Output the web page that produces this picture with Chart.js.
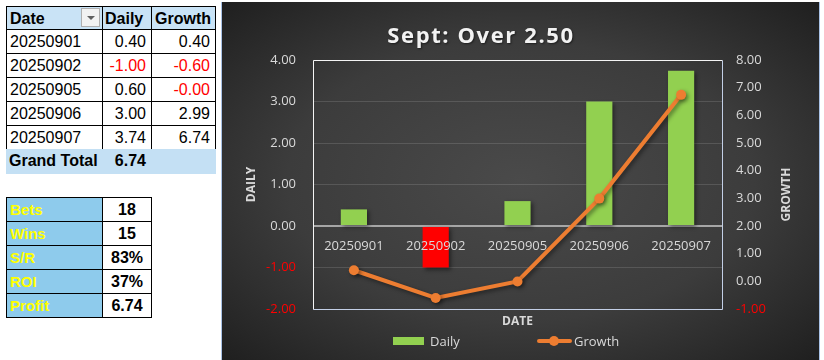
<!DOCTYPE html>
<html><head><meta charset="utf-8">
<script src="https://cdn.jsdelivr.net/npm/chart.js@4.4.1/dist/chart.umd.min.js"></script>
<style>
html,body{margin:0;padding:0;background:#fff;width:824px;height:360px;overflow:hidden;font-family:"Liberation Sans",Arial,sans-serif;}
.cell{position:absolute;box-sizing:border-box;border:1px solid #000;white-space:nowrap;overflow:hidden;}
#panel{position:absolute;left:221px;top:2px;width:599px;height:358px;
 background:radial-gradient(ellipse farthest-corner at 50% 50%, #4a4a4a 0%, #3c3c3c 55%, #1f1f1f 100%);
 box-shadow: inset 1px 0 0 #a9c2e6, inset -1px 0 0 #a9c2e6;}
#chart{position:absolute;left:0;top:0;}
#title{position:absolute;left:281px;top:19px;width:400px;text-align:center;font:bold 22px "Open Sans",sans-serif;letter-spacing:1.6px;color:#f2f2f2;line-height:30px;text-shadow:1px 1px 2px rgba(0,0,0,0.5);}
.lg{position:absolute;font:13px "Open Sans",sans-serif;color:#d9d9d9;line-height:18px;}
</style>
</head><body>
<div id="tables"></div>
<div id="panel"><canvas id="chart" width="599" height="358"></canvas></div>
<div id="title">Sept: Over 2.50</div>
<div id="legend"></div>
<script>
const categories = ['20250901','20250902','20250905','20250906','20250907'];
const dailyValues = [0.40, -1.00, 0.60, 3.00, 3.74];
const growthValues = [0.40, -0.60, -0.004, 2.99, 6.74];
const grandTotal = 6.74;
const statLabels = ['Bets','Wins','S/R','ROI','Profit'];
const statValues = ['18','15','83%','37%','6.74'];
const seriesNames = ['Daily','Growth'];
const dailyAxis = {min:-2, max:4, step:1, title:'DAILY'};
const growthAxis = {min:-1, max:8, step:1, title:'GROWTH'};
const xAxisTitle = 'DATE';
const chartTitle = 'Sept: Over 2.50';

const GREEN = '#92D050', RED = '#FF0000', ORANGE = '#ED7D31', TXT = '#d9d9d9';

// ---------- tables ----------
const T = document.getElementById('tables');
function cell(x,y,w,h,text,css){
  const d=document.createElement('div');
  d.className='cell';
  d.style.cssText=`left:${x}px;top:${y}px;width:${w+1}px;height:${h+1}px;line-height:${h}px;`+(css||'');
  d.textContent=text;
  T.appendChild(d);
  return d;
}
const fmt = v => v.toFixed(2);
const hdrBg='#c9e3f6';
// header
cell(6,6,96,23,'Date','background:'+hdrBg+';font-weight:bold;font-size:16px;padding-left:3px;');
cell(102,6,49,23,'Daily','background:'+hdrBg+';font-weight:bold;font-size:16px;padding-left:2px;');
cell(151,6,64,23,'Growth','background:'+hdrBg+';font-weight:bold;font-size:16px;padding-left:3px;');
const btn=document.createElement('div');
btn.style.cssText='position:absolute;left:81px;top:8px;width:19px;height:19px;box-sizing:border-box;background:#f2f2f2;border:1px solid #b0b0b0;';
btn.innerHTML='<div style="position:absolute;left:5px;top:7px;width:0;height:0;border-left:4px solid transparent;border-right:4px solid transparent;border-top:4px solid #606060;"></div>';
T.appendChild(btn);
const rowY=[29,53,77,101,125];
categories.forEach((c,i)=>{
  const y=rowY[i];
  cell(6,y,96,24,c,'font-size:16px;padding-left:3px;');
  cell(102,y,49,24,fmt(dailyValues[i]),'font-size:16px;text-align:right;padding-right:5px;color:'+(dailyValues[i]<0?RED:'#000')+';');
  cell(151,y,64,24,fmt(growthValues[i]),'font-size:16px;text-align:right;padding-right:5px;color:'+(growthValues[i]<0?RED:'#000')+';');
});
cell(6,149,209,24,'','background:#c4e0f4;border:none;');
cell(6,149,96,24,'Grand Total','background:transparent;border:none;font-weight:bold;font-size:16px;padding-left:3px;');
cell(102,149,49,24,fmt(grandTotal),'background:transparent;border:none;font-weight:bold;font-size:16px;text-align:right;padding-right:6px;');
// stats
const sY=[197,221,245,269,293];
statLabels.forEach((l,i)=>{
  cell(6,sY[i],96,24,l,'background:#8ecbec;color:#ffff00;font-weight:bold;font-size:15px;padding-left:3px;');
  cell(102,sY[i],49,24,statValues[i],'background:#fff;color:#000;font-weight:bold;font-size:16px;text-align:center;');
});

// ---------- legend (HTML) ----------
const L=document.getElementById('legend');
L.innerHTML=
 `<div style="position:absolute;left:393px;top:337px;width:31px;height:8px;background:${GREEN};"></div>`+
 `<div class="lg" style="left:430px;top:332px;">${seriesNames[0]}</div>`+
 `<div style="position:absolute;left:537px;top:339px;width:35px;height:4px;background:${ORANGE};border-radius:2px;"></div>`+
 `<div style="position:absolute;left:549px;top:336px;width:10px;height:10px;border-radius:50%;background:${ORANGE};"></div>`+
 `<div class="lg" style="left:574px;top:332px;">${seriesNames[1]}</div>`;
document.getElementById('title').textContent=chartTitle;

// ---------- chart ----------
const plotFrame={
  id:'plotFrame',
  beforeDatasetsDraw(chart){
    const {ctx,chartArea:a}=chart;
    ctx.save();
    ctx.lineWidth=1;
    ctx.strokeStyle='#f4f4f4';
    ctx.beginPath();ctx.moveTo(a.left+0.5,a.bottom+0.5);ctx.lineTo(a.left+0.5,a.top+0.5);ctx.lineTo(a.right+0.5,a.top+0.5);ctx.stroke();
    ctx.strokeStyle='#c3cfe6';
    ctx.beginPath();ctx.moveTo(a.right+0.5,a.top+0.5);ctx.lineTo(a.right+0.5,a.bottom+0.5);ctx.lineTo(a.left+0.5,a.bottom+0.5);ctx.stroke();
    ctx.restore();
  }
};
const shadows={
  id:'shadows',
  beforeDatasetDraw(chart){const c=chart.ctx;c.save();c.shadowColor='rgba(0,0,0,0.45)';c.shadowBlur=4;c.shadowOffsetX=2;c.shadowOffsetY=2;},
  afterDatasetDraw(chart){chart.ctx.restore();}
};
const growthTitle={
  id:'growthTitle',
  afterDraw(chart){
    const s=chart.scales.y1,c=chart.ctx,a=chart.chartArea;
    c.save();
    c.translate(s.right-33,(a.top+a.bottom)/2+10);
    c.rotate(-Math.PI/2);
    c.font='bold 12px "Open Sans"';
    c.fillStyle=TXT;c.textAlign='center';c.textBaseline='middle';
    c.fillText(growthAxis.title,0,0);
    c.restore();
  }
};
const tickFont={family:'Open Sans',size:13};
const titleFont={family:'Open Sans',size:12,weight:'bold'};
new Chart(document.getElementById('chart'),{
  data:{
    labels:categories,
    datasets:[
      {type:'line',label:seriesNames[1],data:growthValues,yAxisID:'y1',borderColor:ORANGE,backgroundColor:ORANGE,
       borderWidth:4,pointRadius:5,pointBackgroundColor:ORANGE,pointBorderColor:ORANGE,pointBorderWidth:0,tension:0,order:0},
      {type:'bar',label:seriesNames[0],data:dailyValues,yAxisID:'y',
       backgroundColor:c=>c.raw<0?RED:GREEN,barPercentage:0.32,categoryPercentage:1,order:1}
    ]
  },
  options:{
    responsive:false,animation:false,
    layout:{padding:{top:58,bottom:26,left:0,right:0}},
    plugins:{legend:{display:false},title:{display:false},tooltip:{enabled:false}},
    scales:{
      x:{type:'category',position:{y:0},grid:{display:false,drawTicks:false},border:{display:false},
         ticks:{z:1,color:TXT,font:tickFont,padding:12,maxRotation:0,autoSkip:false}},
      x2:{type:'category',position:'bottom',grid:{display:false,drawTicks:false},border:{display:false},ticks:{display:false},
         title:{display:true,text:xAxisTitle,color:TXT,font:titleFont,padding:{top:0,bottom:5}},
         afterFit(s){s.height=25;}},
      y:{position:'left',min:dailyAxis.min,max:dailyAxis.max,
         ticks:{stepSize:dailyAxis.step,callback:v=>Number(v).toFixed(2),color:c=>c.tick.value<0?RED:TXT,font:tickFont,padding:17},
         grid:{color:c=>c.tick.value===0?'#a6a6a6':'rgba(255,255,255,0.13)',lineWidth:c=>c.tick.value===0?2:1,drawTicks:false},
         border:{display:false},
         title:{display:true,text:dailyAxis.title,color:TXT,font:titleFont,padding:{top:23,bottom:0}},
         afterFit(s){s.width=92;}},
      y1:{position:'right',min:growthAxis.min,max:growthAxis.max,
         ticks:{stepSize:growthAxis.step,callback:v=>Number(v).toFixed(2),color:c=>c.tick.value<0?RED:TXT,font:tickFont,padding:14},
         grid:{drawOnChartArea:false,drawTicks:false},border:{display:false},
         afterFit(s){s.width=98;}}
    }
  },
  plugins:[plotFrame,shadows,growthTitle]
});
</script>
</body></html>
